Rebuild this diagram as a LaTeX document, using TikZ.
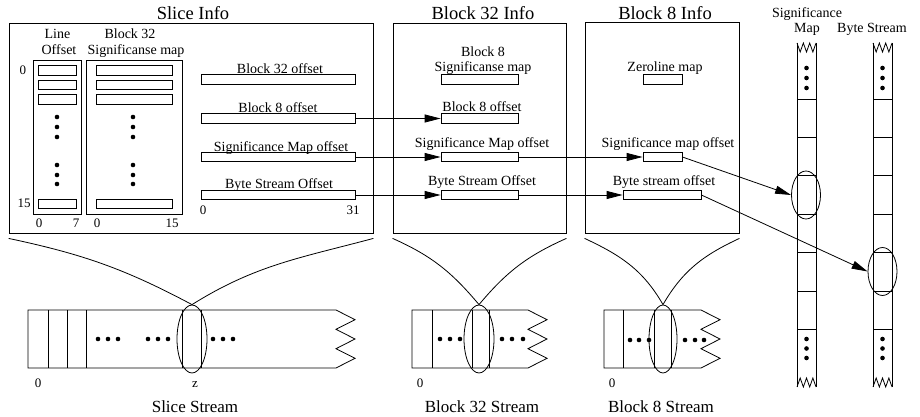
\documentclass[tikz,border=0pt]{standalone}
\usepackage{fontspec}
\setmainfont{Liberation Serif}
\usetikzlibrary{arrows.meta,shapes.geometric}

\begin{document}
\begin{tikzpicture}[x=1pt,y=-1pt,line width=0.8pt,
  frame/.style={draw,rectangle,inner sep=0pt},
  cell/.style={draw,rectangle,inner sep=0pt,minimum height=9.5pt},
  lbl/.style={anchor=base,inner sep=0pt,font=\fontsize{14}{16}\selectfont},
  num/.style={anchor=base,inner sep=0pt,font=\fontsize{13}{15}\selectfont},
  ttl/.style={anchor=base,inner sep=0pt,font=\fontsize{18.5}{21}\selectfont},
  sttl/.style={anchor=base,inner sep=0pt,font=\fontsize{17}{20}\selectfont},
  bead/.style={circle,fill,inner sep=0pt,minimum size=4.6pt},
  lens/.style={draw,ellipse,inner sep=0pt,minimum width=30pt,minimum height=68pt},
  slot/.style={draw,ellipse,inner sep=0pt,minimum width=29pt,minimum height=48pt},
  ptr/.style={-{Triangle[length=16pt,width=8pt]}},
]
\useasboundingbox (0,0) rectangle (920,417);

% ---------------- Slice Info ----------------
\node[ttl] at (193,20) {Slice Info};
\node[frame,minimum width=364pt,minimum height=210pt] (slice) at (191,128) {};
\node[frame,minimum width=48pt,minimum height=154pt] (locol) at (57,137) {};
\node[frame,minimum width=96pt,minimum height=154pt] (smcol) at (134,137) {};
\node[lbl] at (57.5,39) {Line};
\node[lbl] at (59,55) {Offset};
\node[lbl] at (130,39) {Block 32};
\node[lbl] at (136,55) {Significanse map};
\foreach \i/\y in {1/70.5,2/85,3/99.5,4/204}{
  \node[cell,minimum width=38pt] (lo\i) at (57,\y) {};
  \node[cell,minimum width=76pt] (sm\i) at (134,\y) {};
}
\foreach \y in {117,127,137,165,175,184}{
  \node[bead] at (57,\y) {};
  \node[bead] at (133,\y) {};
}
\node[num] at (23,75) {0};
\node[num] at (24,207) {15};
\node[num] at (39,227) {0};
\node[num] at (76,227) {7};
\node[num] at (97,227) {0};
\node[num] at (172,227) {15};

\node[lbl] at (280,73.5) {Block 32 offset};
\node[lbl] at (278,112.5) {Block 8 offset};
\node[lbl] at (281,151) {Significance Map offset};
\node[lbl] at (279,188.5) {Byte Stream Offset};
\node[cell,minimum width=154pt] (sB32) at (278,79.5) {};
\node[cell,minimum width=154pt] (sB8) at (278,118.5) {};
\node[cell,minimum width=154pt] (sSM) at (278,157) {};
\node[cell,minimum width=154pt] (sBS) at (278,195) {};
\node[num] at (203,214) {0};
\node[num] at (353,214) {31};

% ---------------- Block 32 Info ----------------
\node[ttl] at (483,20) {Block 32 Info};
\node[frame,minimum width=173pt,minimum height=210pt] (b32) at (479.5,128) {};
\node[lbl] at (483,57) {Block 8};
\node[lbl] at (483,71.5) {Significanse map};
\node[lbl] at (482,111) {Block 8 offset};
\node[lbl] at (482,147) {Significance Map offset};
\node[lbl] at (482,185) {Byte Stream Offset};
\node[cell,minimum width=77pt] (tSig) at (479.5,79.5) {};
\node[cell,minimum width=77pt] (tB8) at (479.5,118.5) {};
\node[cell,minimum width=77pt] (tSM) at (479.5,157) {};
\node[cell,minimum width=77pt] (tBS) at (479.5,195) {};

% ---------------- Block 8 Info ----------------
\node[ttl] at (665,20) {Block 8 Info};
\node[frame,minimum width=154pt,minimum height=210.5pt] (b8) at (662,127.75) {};
\node[lbl] at (665,71.5) {Zeroline map};
\node[lbl] at (668,147) {Significance map offset};
\node[lbl] at (664,185) {Byte stream offset};
\node[cell,minimum width=39pt] (eZL) at (662.5,79.5) {};
\node[cell,minimum width=39pt] (eSM) at (662.5,157) {};
\node[cell,minimum width=78pt] (eBS) at (662,195) {};

% pointers between the info records
\draw[ptr] (sB8.east) -- (tB8.west);
\draw[ptr] (sSM.east) -- (tSM.west);
\draw[ptr] (sBS.east) -- (tBS.west);
\draw[ptr] (tSM.east) -- (eSM.west);
\draw[ptr] (tBS.east) -- (eBS.west);

% ---------------- vertical streams ----------------
\node[lbl] at (807,18) {Significance};
\node[lbl] at (807,33) {Map};
\node[lbl] at (872,33) {Byte Stream};
\foreach \xl/\xm in {797/806.5,873/882.5}{
  \draw (\xl,43) -- ++(0,344);
  \draw (\xl+19,43) -- ++(0,344);
  \draw (\xl,43) -- ++(3.17,9) -- ++(3.17,-9) -- ++(3.17,9) -- ++(3.17,-9) -- ++(3.17,9) -- ++(3.17,-9);
  \draw (\xl,387) -- ++(3.17,-9) -- ++(3.17,9) -- ++(3.17,-9) -- ++(3.17,9) -- ++(3.17,-9) -- ++(3.17,9);
  \foreach \y in {99,137.4,175.8,214.2,252.6,291,329.4}{
    \draw (\xl,\y) -- ++(19,0);
  }
  \foreach \y in {68,78,88,339,348.5,358}{
    \node[bead] at (\xm,\y) {};
  }
}
\node[slot] (smSlot) at (806,195) {};
\node[slot] (bsSlot) at (882.5,271.5) {};
\draw[ptr] (eSM.east) -- (smSlot.west);
\draw[ptr] (eBS.east) -- (bsSlot.west);

% ---------------- horizontal streams ----------------
% slice stream
\draw (28,310) -- (336,310) -- (355,319.7) -- (336,329.3) -- (355,339) -- (336,348.7) -- (355,358.3) -- (336,368) -- (28,368) -- cycle;
\foreach \x in {48,67,86,182,201} \draw (\x,310) -- (\x,368);
\foreach \x in {98,108,118,148,158,168,213,223,233} \node[bead] at (\x,339) {};
\node[lens] (sliceZ) at (192,339) {};
\node[num] at (38,387) {0};
\node[num] at (195,387) {z};
\node[sttl] at (195,412) {Slice Stream};

% block 32 stream
\draw (412,310) -- (528,310) -- (547,319.7) -- (528,329.3) -- (547,339) -- (528,348.7) -- (547,358.3) -- (528,368) -- (412,368) -- cycle;
\foreach \x in {432,472,489} \draw (\x,310) -- (\x,368);
\foreach \x in {440,450,460,502,512,523} \node[bead] at (\x,339) {};
\node[lens] (b32Z) at (479,339) {};
\node[num] at (420,387) {0};
\node[sttl] at (482,412) {Block 32 Stream};

% block 8 stream
\draw (604,310) -- (701,310) -- (720,319.7) -- (701,329.3) -- (720,339) -- (701,348.7) -- (720,358.3) -- (701,368) -- (604,368) -- cycle;
\foreach \x in {623,654,671} \draw (\x,310) -- (\x,368);
\foreach \x in {630,639,649,685,695,704} \node[bead] at (\x,340) {};
\node[lens,minimum width=28pt] (b8Z) at (663,339) {};
\node[num] at (612,387) {0};
\node[sttl] at (661,412) {Block 8 Stream};

% zoom lines from each info box down to its stream position
\draw ([yshift=-5pt]slice.south west) to[out=-12,in=152] (sliceZ.north);
\draw ([yshift=-5pt]slice.south east) to[out=195,in=32] (sliceZ.north);
\draw ([yshift=-5pt]b32.south west) to[out=-24,in=130] (b32Z.north);
\draw ([yshift=-5pt]b32.south east) to[out=204,in=50] (b32Z.north);
\draw ([yshift=-5pt]b8.south west) to[out=-25,in=120] (b8Z.north);
\draw ([yshift=-5pt]b8.south east) to[out=205,in=60] (b8Z.north);
\end{tikzpicture}
\end{document}
